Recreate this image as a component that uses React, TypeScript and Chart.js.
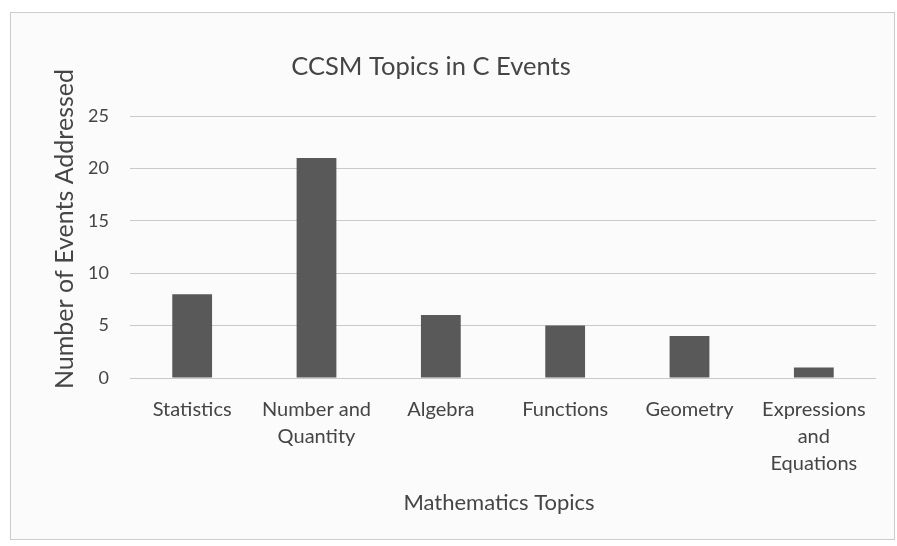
import React, { useEffect, useRef } from "react";
import { Chart, registerables } from "chart.js";

Chart.register(...registerables);

const chartTitle = "CCSM Topics in C Events";
const yAxisTitle = "Number of Events Addressed";
const xAxisTitle = "Mathematics Topics";
const categories: (string | string[])[] = [
  "Statistics",
  ["Number and", "Quantity"],
  "Algebra",
  "Functions",
  "Geometry",
  ["Expressions", "and", "Equations"],
];
const eventCounts = [8, 21, 6, 5, 4, 1];
const yTicks = [0, 5, 10, 15, 20, 25];

const FONT = "Lato, 'Open Sans', sans-serif";
const TEXT = "#454545";

const titlePlugin = {
  id: "offsetTitles",
  afterDraw(chart: any) {
    const ctx = chart.ctx;
    ctx.save();
    ctx.fillStyle = TEXT;
    ctx.textAlign = "center";
    ctx.textBaseline = "middle";
    ctx.font = `25.5px ${FONT}`;
    ctx.fillText(chartTitle, 420, 54);
    ctx.font = `22px ${FONT}`;
    ctx.fillText(xAxisTitle, 488, 490);
    ctx.translate(54, 216);
    ctx.rotate(-Math.PI / 2);
    ctx.font = `25px ${FONT}`;
    ctx.fillText(yAxisTitle, 0, 0);
    ctx.restore();
  },
};

export default function App() {
  const ref = useRef<HTMLCanvasElement>(null);
  useEffect(() => {
    document.body.style.margin = "0";
    document.body.style.background = "#ffffff";
    const chart = new Chart(ref.current!, {
      type: "bar",
      data: {
        labels: categories,
        datasets: [
          {
            data: eventCounts,
            backgroundColor: "#595959",
            barPercentage: 0.32,
            categoryPercentage: 1,
          },
        ],
      },
      plugins: [titlePlugin],
      options: {
        animation: false,
        responsive: false,
        layout: { padding: { left: 39, right: 18, top: 103, bottom: 52 } },
        plugins: {
          legend: { display: false },
          tooltip: { enabled: false },
          title: { display: false },
        },
        scales: {
          x: {
            grid: { display: false },
            border: { display: false },
            ticks: {
              color: TEXT,
              font: { family: FONT, size: 20, lineHeight: 1.35 },
              maxRotation: 0,
              autoSkip: false,
              padding: 10,
            },
          },
          y: {
            min: 0,
            max: 25,
            afterBuildTicks: (s: any) => {
              s.ticks = yTicks.map((v) => ({ value: v }));
            },
            afterFit: (s: any) => {
              s.width = 80;
            },
            grid: { color: "#c9c9c9", drawTicks: false },
            border: { display: false },
            ticks: {
              color: TEXT,
              font: { family: FONT, size: 18 },
              padding: 21,
            },
          },
        },
      },
    });
    return () => chart.destroy();
  }, []);
  return (
    <div
      style={{
        position: "absolute",
        left: 10,
        top: 12,
        width: 883,
        height: 526,
        border: "1px solid #cccccc",
        background: "#fbfbfb",
      }}
    >
      <canvas ref={ref} width={883} height={526} style={{ display: "block" }} />
    </div>
  );
}
